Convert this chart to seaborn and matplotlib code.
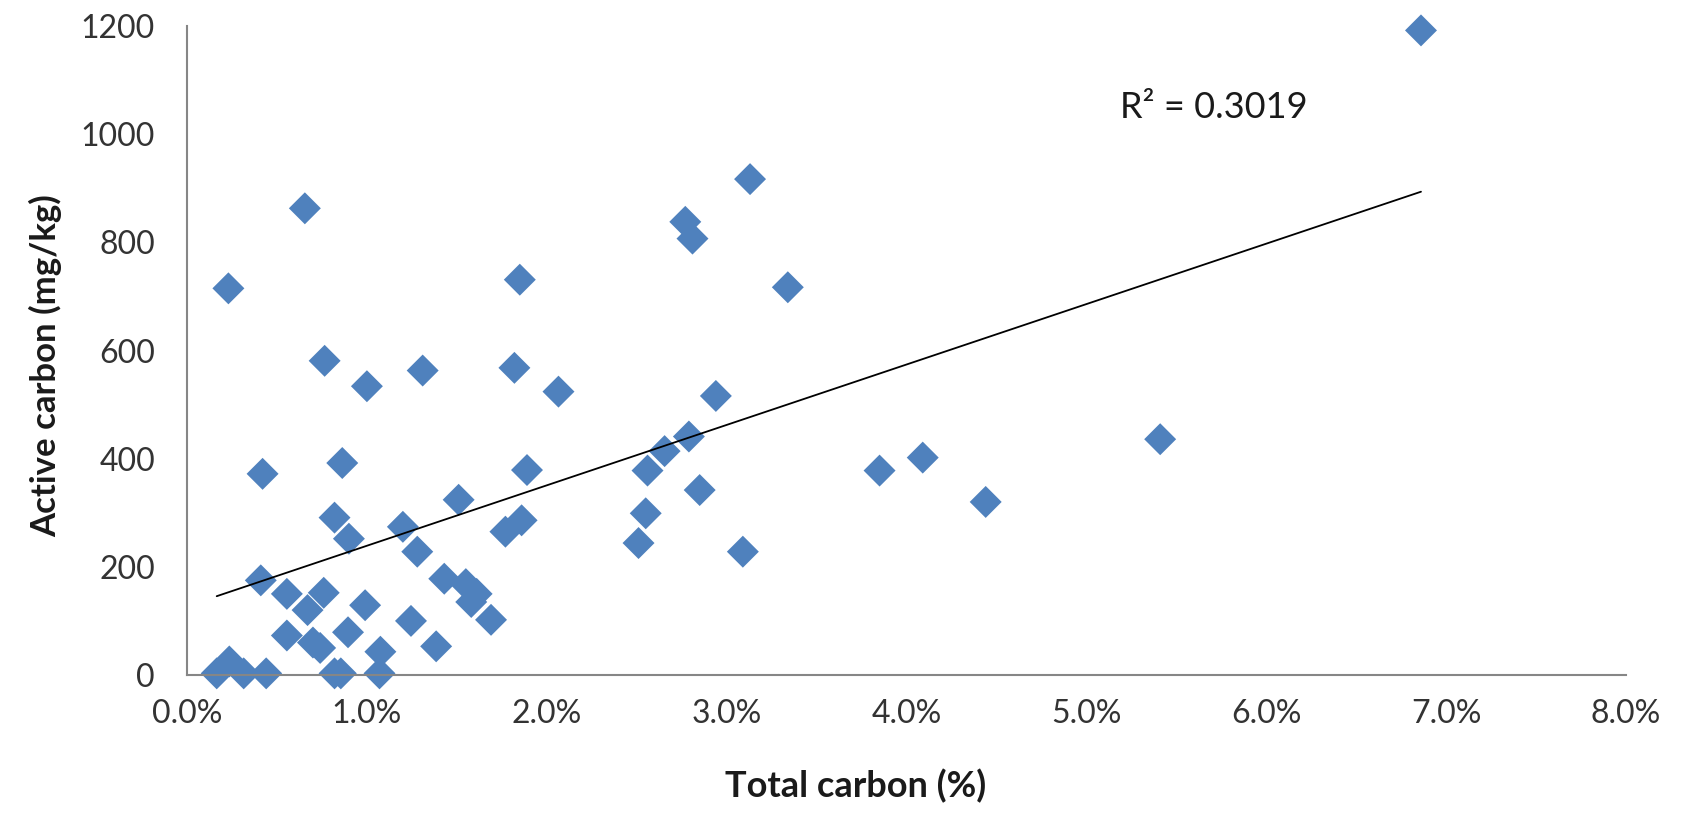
import matplotlib
matplotlib.use("Agg")
import matplotlib.pyplot as plt
import seaborn as sns
import numpy as np
import pandas as pd
from matplotlib.ticker import FuncFormatter

# Total carbon (%) and active carbon (mg/kg)
total_carbon = [0.165, 0.235, 0.315, 0.44, 0.23, 0.42, 0.41, 0.555, 0.555, 0.655,
                0.67, 0.70, 0.74, 0.76, 0.765, 0.82, 0.82, 0.855, 0.863, 0.90,
                0.895, 0.99, 1.00, 1.07, 1.075, 1.20, 1.245, 1.28, 1.31, 1.385,
                1.43, 1.51, 1.55, 1.58, 1.61, 1.69, 1.77, 1.82, 1.85, 1.86,
                1.89, 2.065, 2.51, 2.55, 2.56, 2.655, 2.77, 2.79, 2.81, 2.85,
                2.94, 3.09, 3.13, 3.34, 3.85, 4.09, 4.44, 5.41, 6.86]
active_carbon = [3, 25, 3, 3, 715, 372, 175, 150, 73, 863,
                 120, 60, 50, 152, 581, 291, 3, 3, 392, 252,
                 79, 129, 534, 3, 43, 274, 100, 228, 563, 53,
                 178, 324, 168, 135, 150, 102, 265, 568, 731, 286,
                 379, 524, 244, 299, 378, 414, 838, 441, 807, 342,
                 516, 228, 917, 717, 378, 402, 320, 436, 1192]

x_ticks = [0, 1, 2, 3, 4, 5, 6, 7, 8]
y_ticks = [0, 200, 400, 600, 800, 1000, 1200]
x_label = "Total carbon (%)"
y_label = "Active carbon (mg/kg)"
r2_text = "R² = 0.3019"

df = pd.DataFrame({"tc": total_carbon, "ac": active_carbon})

sns.set_theme(style="white")
plt.rcParams["font.family"] = ["Lato", "DejaVu Sans"]

fig = plt.figure(figsize=(16.88, 8.15), dpi=100)
ax = fig.add_axes([0.1108, 0.1718, 0.8525, 0.7962])

sns.scatterplot(data=df, x="tc", y="ac", marker="D", s=265, color="#4F81BD",
                edgecolor="none", linewidth=0, ax=ax, zorder=2, clip_on=False)
sns.regplot(data=df, x="tc", y="ac", scatter=False, ci=None, ax=ax,
            line_kws={"color": "black", "lw": 1.3, "zorder": 3})

ax.set_xlim(0, 8)
ax.set_ylim(0, 1200)
ax.set_xticks(x_ticks)
ax.set_yticks(y_ticks)
ax.xaxis.set_major_formatter(FuncFormatter(lambda v, p: f"{v:.1f}%"))
ax.tick_params(axis="both", labelsize=23, colors="#868686",
               length=9, width=1.3, direction="out")
ax.tick_params(axis="x", pad=8)
ax.tick_params(axis="y", pad=14)
for lab in ax.get_xticklabels() + ax.get_yticklabels():
    lab.set_color("#333333")

for s in ["top", "right"]:
    ax.spines[s].set_visible(False)
for s in ["left", "bottom"]:
    ax.spines[s].set_color("#868686")
    ax.spines[s].set_linewidth(1.5)
ax.grid(False)

ax.set_xlabel(x_label, fontsize=26, fontweight="bold", color="#1a1a1a")
ax.set_ylabel(y_label, fontsize=25, fontweight="bold", color="#1a1a1a")
ax.xaxis.set_label_coords(0.4645, -0.171)
ax.xaxis.label.set_va("center")
ax.yaxis.set_label_coords(-0.098, 0.476)
ax.yaxis.label.set_va("center")
ax.yaxis.label.set_ha("center")

ax.text(0.7135, 0.874, r2_text, transform=ax.transAxes, fontsize=26,
        color="#1a1a1a", ha="center", va="center")

fig.savefig("out.png", dpi=100)
